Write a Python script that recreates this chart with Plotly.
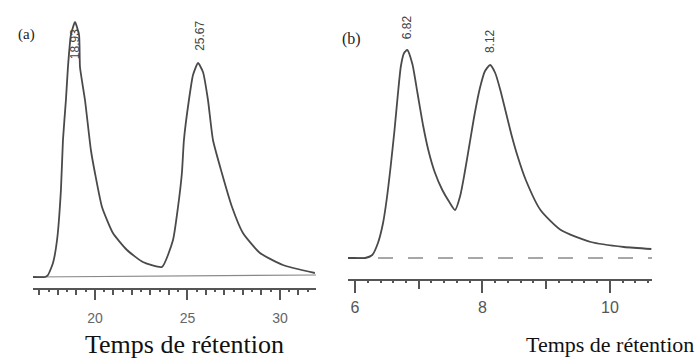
import plotly.graph_objects as go

# ---- Panel (a) data ----
time_a = [16.65, 17.30, 17.46, 17.73, 17.95, 18.16, 18.27, 18.43, 18.54, 18.70, 18.92,
          19.14, 19.19, 19.46, 19.78, 20.00, 20.38, 20.97, 21.73, 22.59, 23.62,
          24.22, 24.49, 24.70, 24.81, 25.08, 25.30, 25.57, 25.84, 26.11, 26.38,
          26.86, 27.41, 28.00, 28.92, 30.16, 31.89]
signal_a = [0, 0, 2, 14, 37, 87, 137, 177, 210, 242, 255,
            242, 210, 177, 127, 104, 70, 44, 27, 15, 10,
            37, 70, 104, 137, 177, 202, 214, 205, 177, 137,
            104, 70, 44, 24, 12, 4]
base_time_a = [16.65, 31.95]
base_signal_a = [0, 2]
peaks_a = [18.93, 25.67]
peak_labels_a = ["18.93", "25.67"]
peak_label_y_a = [233, 241]
ticks_a = [20, 25, 30]

# ---- Panel (b) data ----
time_b = [5.89, 6.00, 6.16, 6.27, 6.36, 6.44, 6.50, 6.56, 6.62, 6.67, 6.72, 6.77, 6.82,
          6.90, 6.98, 7.07, 7.15, 7.25, 7.37, 7.47, 7.57,
          7.65, 7.72, 7.80, 7.88, 7.96, 8.04, 8.12, 8.20, 8.28, 8.37, 8.46, 8.55,
          8.68, 8.91, 9.23, 9.70, 10.22, 10.65]
signal_b = [0, 0, 0, 3, 15, 35, 60, 92, 128, 162, 192, 205, 208,
            194, 165, 132, 108, 86, 68, 57, 48,
            62, 85, 115, 145, 170, 187, 193, 185, 168, 145, 122, 102,
            78, 48, 28, 16, 11, 9]
base_time_b = [5.89, 10.66]
base_signal_b = [0, 0]
peaks_b = [6.82, 8.12]
peak_labels_b = ["6.82", "8.12"]
peak_label_y_b = [231, 217]
ticks_b = [6, 8, 10]

axis_title = "Temps de rétention"

W, H = 699, 358
CURVE = "#4a4a4a"
AXC = "#555555"

fig = go.Figure()
fig.add_trace(go.Scatter(x=base_time_a, y=base_signal_a, mode="lines",
                         line=dict(color="#888888", width=1.2), xaxis="x", yaxis="y",
                         hoverinfo="skip"))
fig.add_trace(go.Scatter(x=time_a, y=signal_a, mode="lines",
                         line=dict(color=CURVE, width=1.8, shape="spline", smoothing=0.5),
                         xaxis="x", yaxis="y"))
fig.add_trace(go.Scatter(x=base_time_b, y=base_signal_b, mode="lines",
                         line=dict(color="#8a8a8a", width=1.4, dash="longdash"), xaxis="x2", yaxis="y2",
                         hoverinfo="skip"))
fig.add_trace(go.Scatter(x=time_b, y=signal_b, mode="lines",
                         line=dict(color=CURVE, width=1.8, shape="spline", smoothing=0.6),
                         xaxis="x2", yaxis="y2"))
# invisible traces for the fine-tick overlay axes
fig.add_trace(go.Scatter(x=base_time_a, y=[None, None], xaxis="x3", yaxis="y", showlegend=False))
fig.add_trace(go.Scatter(x=base_time_b, y=[None, None], xaxis="x4", yaxis="y2", showlegend=False))

dom_a = [33 / W, 316 / W]
dom_b = [348 / W, 652 / W]

common = dict(showgrid=False, zeroline=False, showline=True, linecolor=AXC, linewidth=1.5,
              ticks="outside", tickcolor=AXC, tickwidth=1.5, automargin=False)

fig.update_layout(
    width=W, height=H, margin=dict(l=0, r=0, t=0, b=0),
    paper_bgcolor="white", plot_bgcolor="white", showlegend=False,
    xaxis=dict(domain=dom_a, range=[16.65, 31.95], anchor="y", tickvals=ticks_a,
               ticklen=10, ticklabelstandoff=6,
               tickfont=dict(family="Liberation Sans", size=14, color="#666666"),
               minor=dict(dtick=1, tick0=0, ticklen=5, ticks="outside", tickcolor=AXC, tickwidth=1.5),
               **common),
    xaxis3=dict(overlaying="x", range=[16.65, 31.95], anchor="y", showgrid=False, zeroline=False,
                showline=False, ticks="outside", dtick=0.5, tick0=0, ticklen=3, tickcolor=AXC,
                tickwidth=1.5, showticklabels=False, automargin=False),
    yaxis=dict(domain=[(H - 288) / H, 1], range=[-11, 277], visible=False),
    xaxis2=dict(domain=dom_b, range=[5.89, 10.66], anchor="y2", tickvals=ticks_b,
                ticklen=12, ticklabelstandoff=1,
                tickfont=dict(family="Liberation Sans", size=16, color="#555555"),
                minor=dict(dtick=1, tick0=0, ticklen=8, ticks="outside", tickcolor=AXC, tickwidth=1.5),
                **common),
    xaxis4=dict(overlaying="x2", range=[5.89, 10.66], anchor="y2", showgrid=False, zeroline=False,
                showline=False, ticks="outside", dtick=0.2, tick0=0, ticklen=3, tickcolor=AXC,
                tickwidth=1.5, showticklabels=False, automargin=False),
    yaxis2=dict(domain=[(H - 279) / H, 1], range=[-21, 258], visible=False),
)

ann = []
for px, lab, ly in zip(peaks_a, peak_labels_a, peak_label_y_a):
    ann.append(dict(x=px, y=ly, xref="x", yref="y", text=lab, textangle=-90, showarrow=False,
                    font=dict(family="Liberation Sans Narrow, Liberation Sans", size=12, color="#444444"),
                    xanchor="center", yanchor="middle"))
for px, lab, ly in zip(peaks_b, peak_labels_b, peak_label_y_b):
    ann.append(dict(x=px, y=ly, xref="x2", yref="y2", text=lab, textangle=-90, showarrow=False,
                    font=dict(family="Liberation Sans Narrow, Liberation Sans", size=12, color="#444444"),
                    xanchor="center", yanchor="middle"))
ann.append(dict(x=26 / W, y=1 - 35 / H, xref="paper", yref="paper", text="(a)", showarrow=False,
                font=dict(family="Liberation Serif", size=15, color="#222222"),
                xanchor="center", yanchor="middle"))
ann.append(dict(x=351 / W, y=1 - 39 / H, xref="paper", yref="paper", text="(b)", showarrow=False,
                font=dict(family="Liberation Serif", size=16, color="#222222"),
                xanchor="center", yanchor="middle"))
ann.append(dict(x=184 / W, y=1 - 344 / H, xref="paper", yref="paper", text=axis_title, showarrow=False,
                font=dict(family="Liberation Serif", size=26, color="#111111"),
                xanchor="center", yanchor="middle"))
ann.append(dict(x=610 / W, y=1 - 344 / H, xref="paper", yref="paper", text=axis_title, showarrow=False,
                font=dict(family="Liberation Serif", size=22, color="#111111"),
                xanchor="center", yanchor="middle"))
fig.update_layout(annotations=ann)

fig.write_html("out.html", config={"displayModeBar": False},
               post_script="document.body.style.margin='0px';")
